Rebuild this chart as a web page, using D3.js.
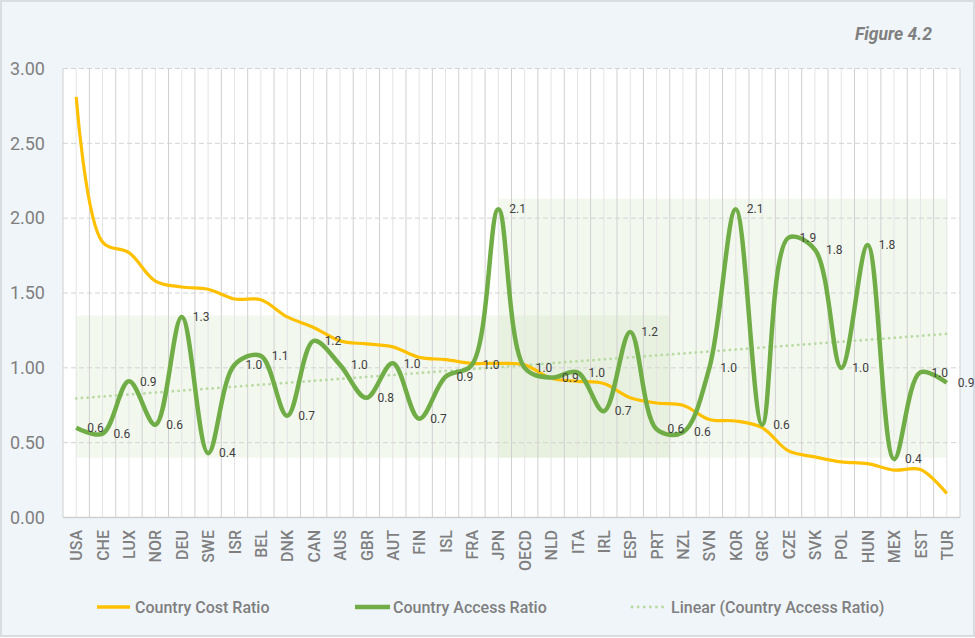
<!DOCTYPE html>
<html><head><meta charset="utf-8">
<script src="https://cdn.jsdelivr.net/npm/d3@7"></script>
<style>
html,body{margin:0;padding:0;background:#fff;}
svg{display:block;font-family:Roboto,"Noto Sans",sans-serif;}
</style></head>
<body><svg id="chart" width="975" height="638"></svg>
<script>
const categories = ["USA","CHE","LUX","NOR","DEU","SWE","ISR","BEL","DNK","CAN","AUS","GBR","AUT","FIN","ISL","FRA","JPN","OECD","NLD","ITA","IRL","ESP","PRT","NZL","SVN","KOR","GRC","CZE","SVK","POL","HUN","MEX","EST","TUR"];
const costRatio = [2.81,1.84,1.77,1.58,1.54,1.525,1.46,1.455,1.34,1.27,1.18,1.16,1.14,1.07,1.055,1.03,1.03,1.02,0.93,0.91,0.895,0.80,0.765,0.75,0.655,0.645,0.60,0.445,0.405,0.372,0.36,0.317,0.32,0.16];
const accessRatio = [0.60,0.56,0.91,0.62,1.34,0.43,1.02,1.08,0.68,1.18,1.02,0.80,1.03,0.66,0.94,1.02,2.06,1.00,0.935,0.97,0.71,1.24,0.59,0.57,1.00,2.06,0.62,1.87,1.79,1.00,1.82,0.39,0.97,0.90];
const yTicks = [0,0.5,1,1.5,2,2.5,3];
const seriesNames = ["Country Cost Ratio","Country Access Ratio","Linear (Country Access Ratio)"];
// highlight boxes: [from category, from offset(0=left edge,0.5=centre), to category, to offset, yLow, yHigh]
const boxStart = ["USA","JPN"];
const boxEnd = ["NZL","TUR"];
const boxStartOff = [0.5,0.5];
const boxEndOff = [0,0.5];
const boxLow = [0.4,0.4];
const boxHigh = [1.35,2.13];
const figureTitle = "Figure 4.2";

const svg = d3.select("#chart");
const W = 975, H = 638;
const m = {left:63, right:15, top:68.5, bottom:120.5};
const iw = W - m.left - m.right, ih = H - m.top - m.bottom;

svg.append("rect").attr("x",1).attr("y",1).attr("width",W-2).attr("height",H-3)
  .attr("fill","#f0f5fa").attr("stroke","#d9dde2").attr("stroke-width",2);

svg.append("text").attr("x",932).attr("y",40).attr("text-anchor","end")
  .attr("font-size",17.5).attr("font-weight",700).attr("font-style","italic")
  .attr("fill","#7f7f7f").text(figureTitle);

const x = d3.scaleBand().domain(categories).range([m.left, m.left+iw]).padding(0);
const y = d3.scaleLinear().domain([0,3]).range([m.top+ih, m.top]);
const bw = x.bandwidth();
const cx = c => x(c) + bw/2;

const g = svg.append("g");
g.append("rect").attr("x",m.left).attr("y",m.top).attr("width",iw).attr("height",ih).attr("fill","#fff");

// highlight boxes
boxStart.forEach((s,i)=>{
  const x0 = x(s)+bw*boxStartOff[i], x1 = x(boxEnd[i])+bw*boxEndOff[i];
  g.append("rect").attr("x",x0).attr("y",y(boxHigh[i])).attr("width",x1-x0)
   .attr("height",y(boxLow[i])-y(boxHigh[i])).attr("fill","#70ad47").attr("fill-opacity",0.085);
});

// vertical gridlines (centres lighter, boundaries darker)
g.selectAll(".vc").data(categories).join("line")
  .attr("x1",d=>cx(d)).attr("x2",d=>cx(d)).attr("y1",m.top).attr("y2",m.top+ih)
  .attr("stroke","#e4e4e4").attr("stroke-width",1);
const bounds = categories.map(d=>x(d)).concat([m.left+iw]);
g.selectAll(".vb").data(bounds).join("line")
  .attr("x1",d=>d).attr("x2",d=>d).attr("y1",m.top).attr("y2",m.top+ih)
  .attr("stroke","#d0d0d0").attr("stroke-width",1);

// horizontal gridlines
g.selectAll(".hg").data(yTicks.filter(t=>t>0)).join("line")
  .attr("x1",m.left).attr("x2",m.left+iw).attr("y1",d=>y(d)).attr("y2",d=>y(d))
  .attr("stroke","#d3d3d3").attr("stroke-width",1).attr("stroke-dasharray","5,3");
g.append("line").attr("x1",m.left).attr("x2",m.left+iw).attr("y1",y(0)).attr("y2",y(0))
  .attr("stroke","#cfcfcf").attr("stroke-width",1.5);

// y tick labels
g.selectAll(".yl").data(yTicks).join("text")
  .attr("x",45).attr("y",d=>y(d)).attr("dy","0.35em").attr("text-anchor","end")
  .attr("font-size",18).attr("fill","#7f7f7f").text(d=>d3.format(".2f")(d));

// x labels
g.selectAll(".xl").data(categories).join("text")
  .attr("transform",d=>`translate(${cx(d)+0.5},530) rotate(-90)`)
  .attr("text-anchor","end").attr("dy","0.35em")
  .attr("font-size",16).attr("font-weight",500).attr("fill","#7f7f7f").text(d=>d);

// trend line (least squares on accessRatio)
const n = accessRatio.length;
const xs = d3.range(n);
const mx = d3.mean(xs), my = d3.mean(accessRatio);
const slope = d3.sum(xs,(i)=>(i-mx)*(accessRatio[i]-my))/d3.sum(xs,i=>(i-mx)*(i-mx));
const icpt = my - slope*mx;
const trend = categories.map((c,i)=>[cx(c), y(icpt+slope*i)]);

const smooth = d3.line().curve(d3.curveCatmullRom.alpha(0.5));

g.append("path").attr("d",d3.line()([trend[0],trend[n-1]]))
  .attr("fill","none").attr("stroke","#b9dba3").attr("stroke-width",2.8)
  .attr("stroke-linecap","round").attr("stroke-dasharray","0.1,5.6");

g.append("path").attr("d",smooth(categories.map((c,i)=>[cx(c),y(costRatio[i])])))
  .attr("fill","none").attr("stroke","#ffc000").attr("stroke-width",3.2).attr("stroke-linejoin","round");

g.append("path").attr("d",smooth(categories.map((c,i)=>[cx(c),y(accessRatio[i])])))
  .attr("fill","none").attr("stroke","#70ad47").attr("stroke-width",4.5).attr("stroke-linejoin","round");

// data labels
g.selectAll(".dl").data(categories).join("text")
  .attr("x",d=>cx(d)+11).attr("y",(d,i)=>y(accessRatio[i])).attr("dy","0.35em")
  .attr("font-size",12).attr("fill","#404040")
  .text((d,i)=>d3.format(".1f")(accessRatio[i]));

// legend
const lg = svg.append("g");
const ly = 607;
const legendItems = [
  {x0:97,x1:130,tx:135,color:"#ffc000",w:3.5,dash:null},
  {x0:355,x1:390,tx:393,color:"#70ad47",w:4.5,dash:null},
  {x0:632,x1:664,tx:671,color:"#b9dba3",w:2.8,dash:"0.1,6"}
];
legendItems.forEach((it,i)=>{
  const l = lg.append("line").attr("x1",it.x0).attr("x2",it.x1).attr("y1",ly).attr("y2",ly)
    .attr("stroke",it.color).attr("stroke-width",it.w);
  if(it.dash) l.attr("stroke-dasharray",it.dash).attr("stroke-linecap","round");
  lg.append("text").attr("x",it.tx).attr("y",ly).attr("dy","0.35em")
    .attr("font-size",16).attr("font-weight",500).attr("fill","#7f7f7f").text(seriesNames[i]);
});
</script></body></html>
